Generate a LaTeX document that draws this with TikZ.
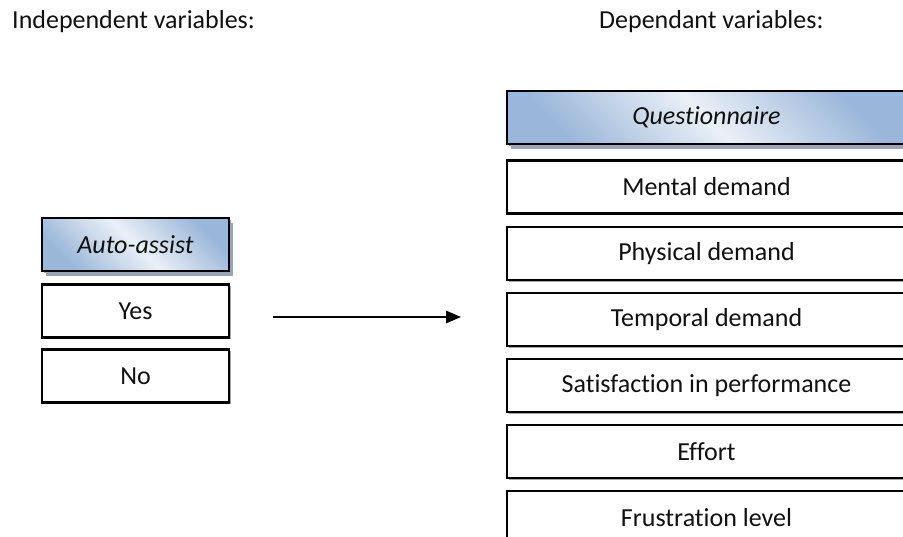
\documentclass[tikz,border=0pt]{standalone}
\usepackage{fontspec}
\setmainfont{Carlito}[Ligatures={NoCommon}]
\usetikzlibrary{arrows.meta,shadows}

\definecolor{hdrdark}{HTML}{9AB6D9}
\definecolor{hdrlight}{HTML}{EAF0F7}
\definecolor{hdrshadow}{HTML}{9AA4B4}
\definecolor{boxshadow}{HTML}{A6A6A6}
\definecolor{txt}{HTML}{111111}

\tikzset{
  varbox/.style={draw=black, line width=2.4pt, fill=white, rectangle,
    inner sep=0pt, font=\fontsize{26}{30}\selectfont, text=txt,
    drop shadow={shadow xshift=1.6pt, shadow yshift=-1.6pt, fill=boxshadow, opacity=1}},
  headbox/.style={varbox, font=\fontsize{26}{30}\selectfont\itshape,
    top color=hdrdark, bottom color=hdrdark, middle color=hdrlight, shading angle=-45,
    drop shadow={shadow xshift=4pt, shadow yshift=-5pt, fill=hdrshadow, opacity=1}},
  leftbox/.style={minimum width=187pt, minimum height=53pt},
  rightbox/.style={minimum width=399pt, minimum height=53pt},
  title/.style={anchor=west, inner sep=0pt, font=\fontsize{26}{30}\selectfont, text=txt},
  flow/.style={line width=1.5pt, -{Triangle[length=15pt,width=12.5pt]}}
}

\begin{document}
\begin{tikzpicture}[x=1pt,y=-1pt]
  \clip (0,0) rectangle (903,536);

  % column headings
  \node[title] (indep) at (12,22) {Independent variables:};
  \node[title] (dep) at (599,22) {Dependant variables:};

  % independent variable
  \node[headbox,leftbox] (auto) at (135.5,244.5) {Auto-assist};
  \node[varbox,leftbox] (yes) at (135.5,311) {Yes};
  \node[varbox,leftbox] (no) at (135.5,376) {No};

  % dependent variables
  \node[headbox,rightbox] (quest) at (706.5,117.5) {Questionnaire};
  \node[varbox,rightbox] (mental) at (706.5,187) {Mental demand};
  \node[varbox,rightbox] (physical) at (706.5,253.5) {Physical demand};
  \node[varbox,rightbox] (temporal) at (706.5,319.5) {Temporal demand};
  \node[varbox,rightbox] (satis) at (706.5,385.5) {Satisfaction in performance};
  \node[varbox,rightbox] (effort) at (706.5,451.5) {Effort};
  \node[varbox,rightbox] (frust) at (706.5,517.5) {Frustration level};

  % effect arrow
  \coordinate (flowstart) at (273,317);
  \coordinate (flowend) at (461,317);
  \draw[flow] (flowstart) -- (flowend);
\end{tikzpicture}
\end{document}
